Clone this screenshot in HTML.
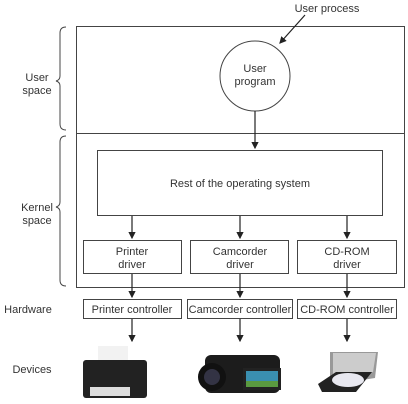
<!DOCTYPE html>
<html><head><style>body{margin:0;background:#fff}svg{display:block}</style></head><body>
<svg width="408" height="404" viewBox="0 0 408 404" xmlns="http://www.w3.org/2000/svg" font-family="Liberation Sans, sans-serif" font-size="11" fill="#333">
<defs><marker id="a" markerWidth="6" markerHeight="6" refX="5" refY="3" orient="auto"><path d="M0,0 L6,3 L0,6 z" fill="#222"/></marker></defs>
<g stroke="#444" fill="none" stroke-width="1">
<rect x="76.5" y="26.5" width="328" height="261"/>
<line x1="76" y1="133.5" x2="404" y2="133.5"/>
<circle cx="255" cy="76" r="35"/>
<rect x="97.5" y="150.5" width="285" height="65"/>
<rect x="83.5" y="240.5" width="98" height="33"/>
<rect x="190.5" y="240.5" width="98" height="33"/>
<rect x="297.5" y="240.5" width="99" height="33"/>
<rect x="83.5" y="299.5" width="98" height="19"/>
<rect x="187.5" y="299.5" width="105" height="19"/>
<rect x="297.5" y="299.5" width="99" height="19"/>
<path d="M66,27 Q60,27 60,33 L60,76 Q60,80 56,81 Q60,82 60,86 L60,124 Q60,130 66,130"/>
<path d="M66,136 Q60,136 60,142 L60,202 Q60,206 56,207 Q60,208 60,212 L60,280 Q60,286 66,286"/>
</g>
<g stroke="#222" stroke-width="1.2" marker-end="url(#a)">
<line x1="305" y1="15" x2="280" y2="43"/>
<line x1="255" y1="111" x2="255" y2="148"/>
<line x1="132" y1="216" x2="132" y2="238"/>
<line x1="240" y1="216" x2="240" y2="238"/>
<line x1="347" y1="216" x2="347" y2="238"/>
<line x1="132" y1="274" x2="132" y2="297"/>
<line x1="240" y1="274" x2="240" y2="297"/>
<line x1="347" y1="274" x2="347" y2="297"/>
<line x1="132" y1="319" x2="132" y2="341"/>
<line x1="240" y1="319" x2="240" y2="341"/>
<line x1="347" y1="319" x2="347" y2="341"/>
</g>
<g text-anchor="middle">
<text x="327" y="12">User process</text>
<text x="255" y="72">User</text><text x="255" y="85">program</text>
<text x="37" y="81">User</text><text x="37" y="94">space</text>
<text x="37" y="211">Kernel</text><text x="37" y="224">space</text>
<text x="28" y="313">Hardware</text>
<text x="32" y="373">Devices</text>
<text x="240" y="187">Rest of the operating system</text>
<text x="132" y="255">Printer</text><text x="132" y="268">driver</text>
<text x="240" y="255">Camcorder</text><text x="240" y="268">driver</text>
<text x="347" y="255">CD-ROM</text><text x="347" y="268">driver</text>
<text x="132" y="313">Printer controller</text>
<text x="240" y="313">Camcorder controller</text>
<text x="347" y="313">CD-ROM controller</text>
</g>
<rect x="98" y="346" width="30" height="16" fill="#f2f2f2"/>
<rect x="83" y="360" width="64" height="38" rx="3" fill="#222"/>
<rect x="90" y="387" width="40" height="9" fill="#ddd"/>
<rect x="205" y="355" width="75" height="38" rx="6" fill="#1c1c1c"/>
<circle cx="212" cy="377" r="14" fill="#111"/>
<circle cx="212" cy="377" r="8" fill="#334"/>
<rect x="243" y="368" width="38" height="22" fill="#222"/>
<rect x="246" y="371" width="32" height="16" fill="#3a8fb0"/>
<rect x="246" y="381" width="32" height="6" fill="#5a9a40"/>
<polygon points="330,352 378,352 375,378 330,385" fill="#999"/>
<polygon points="333,353 376,353 373,372 333,378" fill="#ccc"/>
<polygon points="318,384 336,372 372,372 356,392 322,392" fill="#222"/>
<ellipse cx="348" cy="380" rx="16" ry="7" fill="#e8e8f0"/>
</svg>
</body></html>
